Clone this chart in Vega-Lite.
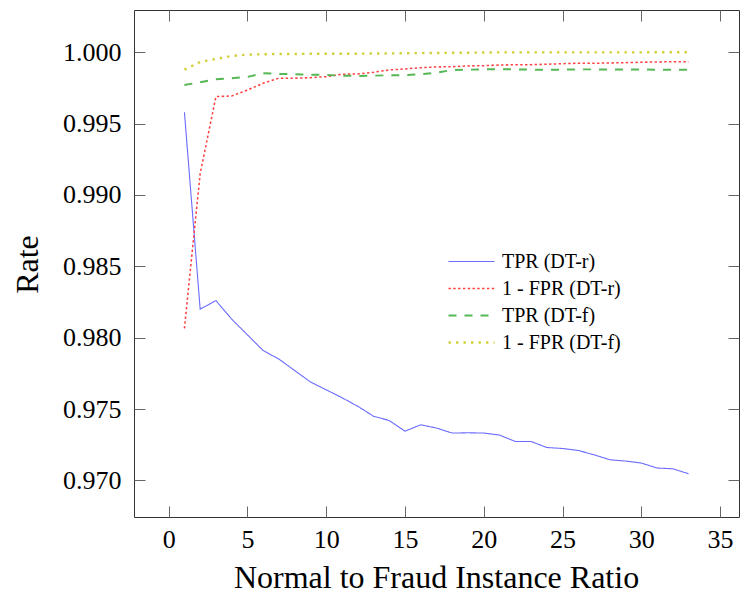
{
  "$schema": "https://vega.github.io/schema/vega-lite/v6.json",
  "width": 605,
  "height": 507,
  "autosize": {"type": "none"},
  "padding": {"left": 134, "top": 10, "right": 2, "bottom": 78},
  "config": {
    "view": {"stroke": "#333333", "strokeWidth": 1},
    "font": "Liberation Serif",
    "axis": {
      "domain": false,
      "grid": false,
      "tickColor": "#666666",
      "tickWidth": 1,
      "tickSize": -11,
      "labelFont": "Liberation Serif",
      "labelFontSize": 26,
      "labelColor": "#000000",
      "titleFont": "Liberation Serif",
      "titleFontSize": 32,
      "titleFontWeight": "normal",
      "titleColor": "#000000"
    }
  },
  "data": {
    "values": [
      {"ratio": 1, "series": "TPR (DT-r)", "rate": 0.9958},
      {"ratio": 2, "series": "TPR (DT-r)", "rate": 0.982},
      {"ratio": 3, "series": "TPR (DT-r)", "rate": 0.9826},
      {"ratio": 4, "series": "TPR (DT-r)", "rate": 0.9813},
      {"ratio": 5, "series": "TPR (DT-r)", "rate": 0.9802},
      {"ratio": 6, "series": "TPR (DT-r)", "rate": 0.9791},
      {"ratio": 7, "series": "TPR (DT-r)", "rate": 0.9785},
      {"ratio": 8, "series": "TPR (DT-r)", "rate": 0.9777},
      {"ratio": 9, "series": "TPR (DT-r)", "rate": 0.9769},
      {"ratio": 10, "series": "TPR (DT-r)", "rate": 0.97635},
      {"ratio": 11, "series": "TPR (DT-r)", "rate": 0.9758},
      {"ratio": 12, "series": "TPR (DT-r)", "rate": 0.9752},
      {"ratio": 13, "series": "TPR (DT-r)", "rate": 0.9745},
      {"ratio": 14, "series": "TPR (DT-r)", "rate": 0.9742},
      {"ratio": 15, "series": "TPR (DT-r)", "rate": 0.97345},
      {"ratio": 16, "series": "TPR (DT-r)", "rate": 0.9739},
      {"ratio": 17, "series": "TPR (DT-r)", "rate": 0.97367},
      {"ratio": 18, "series": "TPR (DT-r)", "rate": 0.97332},
      {"ratio": 19, "series": "TPR (DT-r)", "rate": 0.97334},
      {"ratio": 20, "series": "TPR (DT-r)", "rate": 0.97332},
      {"ratio": 21, "series": "TPR (DT-r)", "rate": 0.97318},
      {"ratio": 22, "series": "TPR (DT-r)", "rate": 0.97273},
      {"ratio": 23, "series": "TPR (DT-r)", "rate": 0.97273},
      {"ratio": 24, "series": "TPR (DT-r)", "rate": 0.97231},
      {"ratio": 25, "series": "TPR (DT-r)", "rate": 0.97224},
      {"ratio": 26, "series": "TPR (DT-r)", "rate": 0.9721},
      {"ratio": 27, "series": "TPR (DT-r)", "rate": 0.9718},
      {"ratio": 28, "series": "TPR (DT-r)", "rate": 0.97145},
      {"ratio": 29, "series": "TPR (DT-r)", "rate": 0.97136},
      {"ratio": 30, "series": "TPR (DT-r)", "rate": 0.97122},
      {"ratio": 31, "series": "TPR (DT-r)", "rate": 0.97087},
      {"ratio": 32, "series": "TPR (DT-r)", "rate": 0.97082},
      {"ratio": 33, "series": "TPR (DT-r)", "rate": 0.97047},

      {"ratio": 1, "series": "1 - FPR (DT-r)", "rate": 0.98065},
      {"ratio": 2, "series": "1 - FPR (DT-r)", "rate": 0.9915},
      {"ratio": 3, "series": "1 - FPR (DT-r)", "rate": 0.99689},
      {"ratio": 4, "series": "1 - FPR (DT-r)", "rate": 0.99694},
      {"ratio": 5, "series": "1 - FPR (DT-r)", "rate": 0.99735},
      {"ratio": 6, "series": "1 - FPR (DT-r)", "rate": 0.99783},
      {"ratio": 7, "series": "1 - FPR (DT-r)", "rate": 0.99818},
      {"ratio": 8, "series": "1 - FPR (DT-r)", "rate": 0.99818},
      {"ratio": 9, "series": "1 - FPR (DT-r)", "rate": 0.99822},
      {"ratio": 10, "series": "1 - FPR (DT-r)", "rate": 0.99829},
      {"ratio": 11, "series": "1 - FPR (DT-r)", "rate": 0.99846},
      {"ratio": 12, "series": "1 - FPR (DT-r)", "rate": 0.99848},
      {"ratio": 13, "series": "1 - FPR (DT-r)", "rate": 0.9986},
      {"ratio": 14, "series": "1 - FPR (DT-r)", "rate": 0.99876},
      {"ratio": 15, "series": "1 - FPR (DT-r)", "rate": 0.99883},
      {"ratio": 16, "series": "1 - FPR (DT-r)", "rate": 0.99892},
      {"ratio": 17, "series": "1 - FPR (DT-r)", "rate": 0.99897},
      {"ratio": 18, "series": "1 - FPR (DT-r)", "rate": 0.99899},
      {"ratio": 19, "series": "1 - FPR (DT-r)", "rate": 0.99904},
      {"ratio": 20, "series": "1 - FPR (DT-r)", "rate": 0.99906},
      {"ratio": 21, "series": "1 - FPR (DT-r)", "rate": 0.9991},
      {"ratio": 22, "series": "1 - FPR (DT-r)", "rate": 0.99913},
      {"ratio": 23, "series": "1 - FPR (DT-r)", "rate": 0.99913},
      {"ratio": 24, "series": "1 - FPR (DT-r)", "rate": 0.99916},
      {"ratio": 25, "series": "1 - FPR (DT-r)", "rate": 0.9992},
      {"ratio": 26, "series": "1 - FPR (DT-r)", "rate": 0.99923},
      {"ratio": 27, "series": "1 - FPR (DT-r)", "rate": 0.99923},
      {"ratio": 28, "series": "1 - FPR (DT-r)", "rate": 0.99925},
      {"ratio": 29, "series": "1 - FPR (DT-r)", "rate": 0.99927},
      {"ratio": 30, "series": "1 - FPR (DT-r)", "rate": 0.9993},
      {"ratio": 31, "series": "1 - FPR (DT-r)", "rate": 0.99932},
      {"ratio": 32, "series": "1 - FPR (DT-r)", "rate": 0.99934},
      {"ratio": 33, "series": "1 - FPR (DT-r)", "rate": 0.99934},

      {"ratio": 1, "series": "TPR (DT-f)", "rate": 0.9977},
      {"ratio": 2, "series": "TPR (DT-f)", "rate": 0.9979},
      {"ratio": 3, "series": "TPR (DT-f)", "rate": 0.99811},
      {"ratio": 4, "series": "TPR (DT-f)", "rate": 0.99818},
      {"ratio": 5, "series": "TPR (DT-f)", "rate": 0.99827},
      {"ratio": 6, "series": "TPR (DT-f)", "rate": 0.99853},
      {"ratio": 7, "series": "TPR (DT-f)", "rate": 0.99848},
      {"ratio": 8, "series": "TPR (DT-f)", "rate": 0.99846},
      {"ratio": 9, "series": "TPR (DT-f)", "rate": 0.99843},
      {"ratio": 10, "series": "TPR (DT-f)", "rate": 0.99841},
      {"ratio": 11, "series": "TPR (DT-f)", "rate": 0.99836},
      {"ratio": 12, "series": "TPR (DT-f)", "rate": 0.99834},
      {"ratio": 13, "series": "TPR (DT-f)", "rate": 0.99836},
      {"ratio": 14, "series": "TPR (DT-f)", "rate": 0.99839},
      {"ratio": 15, "series": "TPR (DT-f)", "rate": 0.99839},
      {"ratio": 16, "series": "TPR (DT-f)", "rate": 0.99846},
      {"ratio": 17, "series": "TPR (DT-f)", "rate": 0.99857},
      {"ratio": 18, "series": "TPR (DT-f)", "rate": 0.99876},
      {"ratio": 19, "series": "TPR (DT-f)", "rate": 0.99878},
      {"ratio": 20, "series": "TPR (DT-f)", "rate": 0.9988},
      {"ratio": 21, "series": "TPR (DT-f)", "rate": 0.99881},
      {"ratio": 22, "series": "TPR (DT-f)", "rate": 0.9988},
      {"ratio": 23, "series": "TPR (DT-f)", "rate": 0.99878},
      {"ratio": 24, "series": "TPR (DT-f)", "rate": 0.99877},
      {"ratio": 25, "series": "TPR (DT-f)", "rate": 0.99878},
      {"ratio": 26, "series": "TPR (DT-f)", "rate": 0.9988},
      {"ratio": 27, "series": "TPR (DT-f)", "rate": 0.9988},
      {"ratio": 28, "series": "TPR (DT-f)", "rate": 0.99879},
      {"ratio": 29, "series": "TPR (DT-f)", "rate": 0.99879},
      {"ratio": 30, "series": "TPR (DT-f)", "rate": 0.99879},
      {"ratio": 31, "series": "TPR (DT-f)", "rate": 0.99878},
      {"ratio": 32, "series": "TPR (DT-f)", "rate": 0.99878},
      {"ratio": 33, "series": "TPR (DT-f)", "rate": 0.99878},

      {"ratio": 1, "series": "1 - FPR (DT-f)", "rate": 0.99878},
      {"ratio": 2, "series": "1 - FPR (DT-f)", "rate": 0.99932},
      {"ratio": 3, "series": "1 - FPR (DT-f)", "rate": 0.99953},
      {"ratio": 4, "series": "1 - FPR (DT-f)", "rate": 0.99974},
      {"ratio": 5, "series": "1 - FPR (DT-f)", "rate": 0.99983},
      {"ratio": 6, "series": "1 - FPR (DT-f)", "rate": 0.99986},
      {"ratio": 7, "series": "1 - FPR (DT-f)", "rate": 0.99988},
      {"ratio": 8, "series": "1 - FPR (DT-f)", "rate": 0.99988},
      {"ratio": 9, "series": "1 - FPR (DT-f)", "rate": 0.99989},
      {"ratio": 10, "series": "1 - FPR (DT-f)", "rate": 0.99989},
      {"ratio": 11, "series": "1 - FPR (DT-f)", "rate": 0.9999},
      {"ratio": 12, "series": "1 - FPR (DT-f)", "rate": 0.9999},
      {"ratio": 13, "series": "1 - FPR (DT-f)", "rate": 0.99991},
      {"ratio": 14, "series": "1 - FPR (DT-f)", "rate": 0.99992},
      {"ratio": 15, "series": "1 - FPR (DT-f)", "rate": 0.99993},
      {"ratio": 16, "series": "1 - FPR (DT-f)", "rate": 0.99994},
      {"ratio": 17, "series": "1 - FPR (DT-f)", "rate": 0.99995},
      {"ratio": 18, "series": "1 - FPR (DT-f)", "rate": 0.99996},
      {"ratio": 19, "series": "1 - FPR (DT-f)", "rate": 0.99997},
      {"ratio": 20, "series": "1 - FPR (DT-f)", "rate": 0.99998},
      {"ratio": 21, "series": "1 - FPR (DT-f)", "rate": 0.99999},
      {"ratio": 22, "series": "1 - FPR (DT-f)", "rate": 0.99999},
      {"ratio": 23, "series": "1 - FPR (DT-f)", "rate": 0.99999},
      {"ratio": 24, "series": "1 - FPR (DT-f)", "rate": 0.99999},
      {"ratio": 25, "series": "1 - FPR (DT-f)", "rate": 0.99999},
      {"ratio": 26, "series": "1 - FPR (DT-f)", "rate": 0.99999},
      {"ratio": 27, "series": "1 - FPR (DT-f)", "rate": 0.99999},
      {"ratio": 28, "series": "1 - FPR (DT-f)", "rate": 0.99999},
      {"ratio": 29, "series": "1 - FPR (DT-f)", "rate": 0.99999},
      {"ratio": 30, "series": "1 - FPR (DT-f)", "rate": 0.99999},
      {"ratio": 31, "series": "1 - FPR (DT-f)", "rate": 1.0},
      {"ratio": 32, "series": "1 - FPR (DT-f)", "rate": 1.0},
      {"ratio": 33, "series": "1 - FPR (DT-f)", "rate": 1.0}
    ]
  },
  "layer": [
    {
      "mark": {"type": "line", "strokeCap": "butt", "strokeJoin": "miter"},
      "encoding": {
        "x": {
          "field": "ratio",
          "type": "quantitative",
          "scale": {"domain": [-2.2, 36.2], "nice": false, "zero": false},
          "axis": {
            "orient": "bottom",
            "values": [0, 5, 10, 15, 20, 25, 30, 35],
            "format": "d",
            "labelBaseline": "alphabetic",
            "labelPadding": 41,
            "title": "Normal to Fraud Instance Ratio",
            "titleX": 302,
            "titleY": 70,
            "titleAlign": "center",
            "titleBaseline": "alphabetic"
          }
        },
        "y": {
          "field": "rate",
          "type": "quantitative",
          "scale": {"domain": [0.96744, 1.00296], "nice": false, "zero": false},
          "axis": {
            "orient": "left",
            "values": [0.97, 0.975, 0.98, 0.985, 0.99, 0.995, 1.0],
            "format": ".3f",
            "labelPadding": 24,
            "title": "Rate",
            "titleX": -107,
            "titleY": 254,
            "titleAngle": 270,
            "titleAlign": "center",
            "titleBaseline": "middle"
          }
        },
        "color": {
          "field": "series",
          "type": "nominal",
          "scale": {
            "domain": ["TPR (DT-r)", "1 - FPR (DT-r)", "TPR (DT-f)", "1 - FPR (DT-f)"],
            "range": ["#6b6bff", "#ff4040", "#55b855", "#d0d03a"]
          },
          "legend": {
            "orient": "none",
            "legendX": 313,
            "legendY": 238,
            "title": null,
            "padding": 0,
            "symbolType": "stroke",
            "symbolSize": 2116,
            "clipHeight": 27,
            "rowPadding": 0,
            "labelFont": "Liberation Serif",
            "labelFontSize": 20,
            "labelColor": "#000000",
            "labelOffset": 6
          }
        },
        "strokeDash": {
          "field": "series",
          "type": "nominal",
          "scale": {
            "domain": ["TPR (DT-r)", "1 - FPR (DT-r)", "TPR (DT-f)", "1 - FPR (DT-f)"],
            "range": [[1, 0], [2.4, 2.4], [8, 8], [2.4, 5.1]]
          }
        },
        "strokeWidth": {
          "field": "series",
          "type": "nominal",
          "scale": {
            "domain": ["TPR (DT-r)", "1 - FPR (DT-r)", "TPR (DT-f)", "1 - FPR (DT-f)"],
            "range": [1.1, 2.4, 2.4, 2.4]
          }
        }
      }
    },
    {
      "mark": {"type": "point", "opacity": 0},
      "encoding": {
        "x": {
          "field": "ratio",
          "type": "quantitative",
          "axis": {"orient": "top", "values": [0, 5, 10, 15, 20, 25, 30, 35], "labels": false, "title": null}
        },
        "y": {
          "field": "rate",
          "type": "quantitative",
          "axis": {"orient": "right", "values": [0.97, 0.975, 0.98, 0.985, 0.99, 0.995, 1.0], "labels": false, "title": null}
        }
      }
    }
  ],
  "resolve": {"axis": {"x": "independent", "y": "independent"}}
}
